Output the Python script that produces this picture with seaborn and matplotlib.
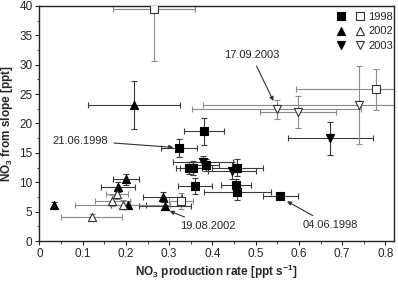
import matplotlib
matplotlib.use('Agg')
import matplotlib.pyplot as plt
import seaborn as sns
import pandas as pd
from matplotlib.legend_handler import HandlerTuple
from matplotlib.ticker import MultipleLocator

sns.set_style('ticks')
plt.rcParams['font.family'] = ['Liberation Sans', 'DejaVu Sans']
plt.rcParams['mathtext.default'] = 'regular'

# 1998 - filled squares
sq98_x = [0.381, 0.323, 0.347, 0.356, 0.385, 0.458, 0.360, 0.455, 0.458, 0.557]
sq98_y = [18.7, 15.8, 12.4, 12.5, 12.9, 12.5, 9.4, 9.5, 8.3, 7.7]
sq98_xerr = [0.046, 0.042, 0.03, 0.03, 0.03, 0.06, 0.04, 0.035, 0.077, 0.041]
sq98_yerr = [2.3, 1.5, 1.0, 1.2, 1.0, 1.5, 1.4, 1.0, 1.3, 0.5]
# 1998 - open squares
osq98_x = [0.265, 0.327, 0.778]
osq98_y = [39.4, 6.8, 25.8]
osq98_xerr = [0.095, 0.028, 0.184]
osq98_yerr = [8.7, 1.3, 3.5]
# 2002 - filled up triangles
tr02_x = [0.219, 0.034, 0.182, 0.200, 0.206, 0.285, 0.290]
tr02_y = [23.1, 6.1, 9.2, 10.5, 6.2, 7.5, 6.0]
tr02_xerr = [0.107, 0.0, 0.04, 0.03, 0.04, 0.045, 0.06]
tr02_yerr = [4.1, 0.5, 0.8, 0.9, 0.6, 0.8, 0.6]
# 2002 - open up triangles
otr02_x = [0.121, 0.169, 0.180, 0.193]
otr02_y = [4.1, 6.9, 8.0, 6.2]
otr02_xerr = [0.07, 0.04, 0.025, 0.11]
otr02_yerr = [0.5, 1.0, 0.8, 0.8]
# 2003 - filled down triangles
dn03_x = [0.378, 0.445, 0.673]
dn03_y = [13.4, 12.0, 17.5]
dn03_xerr = [0.07, 0.055, 0.098]
dn03_yerr = [1.0, 1.5, 2.8]
# 2003 - open down triangles
odn03_x = [0.549, 0.598, 0.738]
odn03_y = [22.4, 22.0, 23.1]
odn03_xerr = [0.195, 0.087, 0.36]
odn03_yerr = [1.6, 2.7, 6.6]

groups = [
    (sq98_x, sq98_y, sq98_xerr, sq98_yerr, 's', True),
    (osq98_x, osq98_y, osq98_xerr, osq98_yerr, 's', False),
    (tr02_x, tr02_y, tr02_xerr, tr02_yerr, '^', True),
    (otr02_x, otr02_y, otr02_xerr, otr02_yerr, '^', False),
    (dn03_x, dn03_y, dn03_xerr, dn03_yerr, 'v', True),
    (odn03_x, odn03_y, odn03_xerr, odn03_yerr, 'v', False),
]

fig = plt.figure(figsize=(3.98, 2.81), dpi=100)
ax = fig.add_axes([0.099, 0.142, 0.891, 0.837])

handles = []
for x, y, xe, ye, m, filled in groups:
    ax.errorbar(x, y, xerr=xe, yerr=ye, fmt='none',
                ecolor='#3a3a3a' if filled else '#8c8c8c',
                elinewidth=0.8, capsize=2, capthick=0.8, zorder=2)
    df = pd.DataFrame({'x': x, 'y': y})
    sns.scatterplot(data=df, x='x', y='y', marker=m, s=34,
                    color='black' if filled else 'white',
                    edgecolor='black' if filled else '#333333',
                    linewidth=0.8, ax=ax, zorder=3, legend=False)
    h, = ax.plot([], [], linestyle='none', marker=m, markersize=5.5,
                 markerfacecolor='black' if filled else 'white',
                 markeredgecolor='black' if filled else '#333333',
                 markeredgewidth=0.8)
    handles.append(h)

ax.set_xlim(0, 0.82)
ax.set_ylim(0, 40)
ax.xaxis.set_minor_locator(MultipleLocator(0.05))
ax.yaxis.set_major_locator(MultipleLocator(5))
ax.yaxis.set_minor_locator(MultipleLocator(2.5))
ax.set_xticks([0, 0.1, 0.2, 0.3, 0.4, 0.5, 0.6, 0.7, 0.8])
ax.set_xticklabels(['0', '0.1', '0.2', '0.3', '0.4', '0.5', '0.6', '0.7', '0.8'])
ax.tick_params(which='major', direction='out', length=3, width=0.8, labelsize=8.5, pad=2)
ax.tick_params(which='minor', direction='out', length=1.8, width=0.6)
for s in ax.spines.values():
    s.set_linewidth(1.0)
    s.set_color('#222222')

ax.set_xlabel('NO$_3$ production rate [ppt s$^{-1}$]', fontsize=8.5, fontweight='bold', labelpad=2)
ax.set_ylabel('NO$_3$ from slope [ppt]', fontsize=8.5, fontweight='bold', labelpad=3)

arrow = dict(arrowstyle='-|>', color='#333333', lw=0.8, mutation_scale=6)
ax.annotate('21.06.1998', xy=(0.316, 15.9), xytext=(0.03, 17.1), fontsize=8,
            va='center', ha='left', arrowprops=arrow)
ax.annotate('17.09.2003', xy=(0.544, 23.4), xytext=(0.49, 31.6), fontsize=8,
            va='center', ha='center', arrowprops=arrow)
ax.annotate('19.08.2002', xy=(0.295, 5.3), xytext=(0.325, 2.5), fontsize=8,
            va='center', ha='left', arrowprops=arrow)
ax.annotate('04.06.1998', xy=(0.567, 7.0), xytext=(0.672, 2.7), fontsize=8,
            va='center', ha='center', arrowprops=arrow)

ax.legend([(handles[0], handles[1]), (handles[2], handles[3]), (handles[4], handles[5])],
          ['1998', '2002', '2003'], handler_map={tuple: HandlerTuple(ndivide=None, pad=1.1)},
          loc='upper right', bbox_to_anchor=(1.015, 1.0), frameon=False, fontsize=8,
          handlelength=2.3, handletextpad=0.5, labelspacing=0.4, borderaxespad=0.15)

fig.savefig('out.png', dpi=100)
